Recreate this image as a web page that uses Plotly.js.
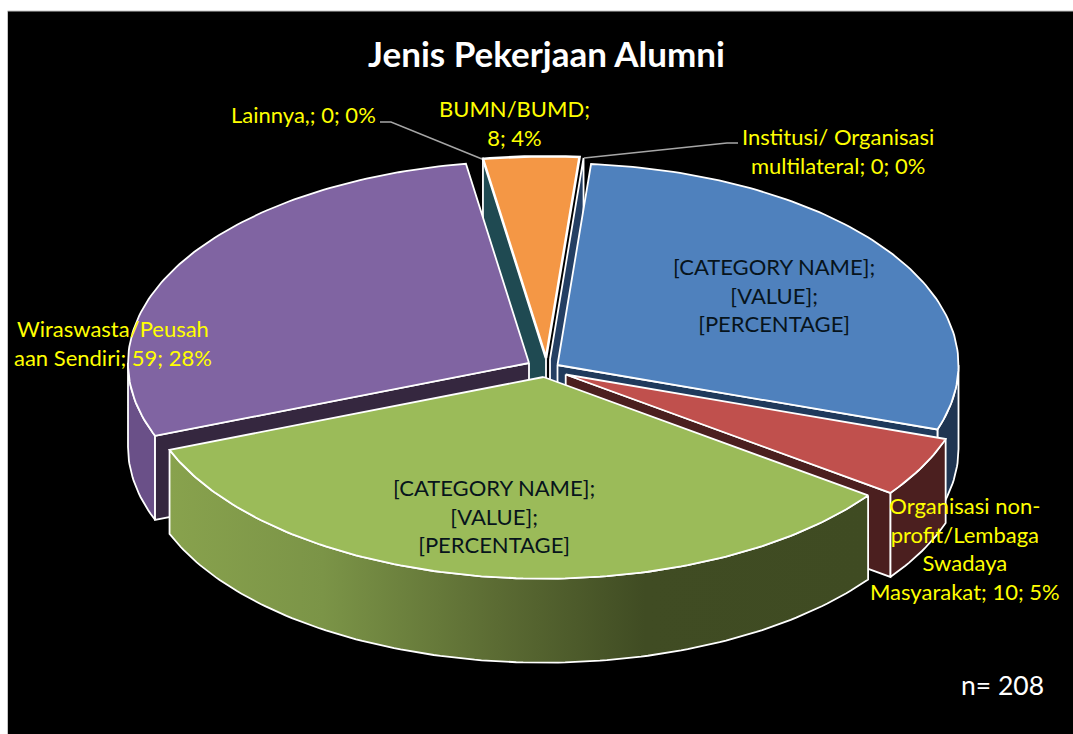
<!DOCTYPE html>
<html>
<head>
<meta charset="utf-8">
<script src="https://cdn.plot.ly/plotly-3.0.1.min.js"></script>
<style>html,body{margin:0;padding:0;background:#fff}#chart{width:1073px;height:734px}</style>
</head>
<body>
<div id="chart"></div>
<script>
// ---- data ----
const categories = ['Swasta', 'Organisasi non-profit/Lembaga Swadaya Masyarakat', 'Pemerintah', 'Wiraswasta/Peusahaan Sendiri', 'Lainnya,', 'BUMN/BUMD', 'Institusi/ Organisasi multilateral'];
const values = [60, 10, 71, 59, 0, 8, 0];
const total = values.reduce((a, b) => a + b, 0);
const titleText = 'Jenis Pekerjaan Alumni';
const noteText = 'n= ' + total;
const pct = values.map(v => Math.round(v / total * 100) + '%');

// ---- projection of the tilted pie, in pixels of the picture ----
const R = 401, K = 0.503, DEPTH = 84, START = 4.8;
const apex = [[557.5, 365], [565.7, 374.5], [543.5, 377], [529, 363], [546, 357], [546, 358], [550, 359]];
const topColors = ['#4f81bd', '#c0504d', '#9bbb59', '#8064a2', '#1f4a52', '#f49745', '#243f63'];
const wallColors = ['#1f3552', '#4b1f1f', '#9bbb59', '#6a5088', '#1f4a52', '#a8642c', '#243f63'];
const cutColors = ['#1f3a5c', '#4b1f1f', '#3f4b22', '#35273f', '#1f4a52', '#1f4a52', '#243f63'];
const greenGradient = [[0, '#88a24d'], [0.22, '#7b9447'], [0.47, '#5b6b33'], [0.68, '#404c23'], [1, '#3f4b22']];

const spans = [];
let cursor = START;
values.forEach(v => { const a = v / total * 360; spans.push([cursor, cursor + a]); cursor += a; });

const rad = d => d * Math.PI / 180;
const pt = (i, deg, drop = 0) => [apex[i][0] + R * Math.sin(rad(deg)), apex[i][1] - R * K * Math.cos(rad(deg)) + drop];
function arc(i, a, b, drop = 0) {
  const out = [];
  const n = Math.max(1, Math.ceil(Math.abs(b - a)));
  for (let s = 0; s <= n; s++) out.push(pt(i, a + (b - a) * s / n, drop));
  return out;
}
function face(name, poly, color, width, extra) {
  return Object.assign({
    type: 'scatter', mode: 'lines', name, hoverinfo: 'skip', showlegend: false,
    x: poly.map(p => p[0]).concat([poly[0][0]]),
    y: poly.map(p => p[1]).concat([poly[0][1]]),
    fill: 'toself', fillcolor: color,
    line: { color: '#ffffff', width: width || 1.8 }
  }, extra || {});
}
const topFace = i => face(categories[i], [apex[i], ...arc(i, spans[i][0], spans[i][1])], topColors[i], i === 5 ? 2.6 : 1.8);
const cutFace = (i, deg, color) => face(categories[i] + ' cut', [apex[i], pt(i, deg), pt(i, deg, DEPTH), [apex[i][0], apex[i][1] + DEPTH]], color);
function outerFace(i, extra) {
  const a = Math.max(spans[i][0], 90), b = Math.min(spans[i][1], 270);
  return face(categories[i] + ' side', [...arc(i, a, b), ...arc(i, b, a, DEPTH)], wallColors[i], 1.8, extra);
}

const traces = [
  cutFace(4, spans[4][0], cutColors[4]),
  cutFace(6, spans[6][0], cutColors[6]),
  topFace(5),
  outerFace(0), cutFace(0, spans[0][1], cutColors[0]), topFace(0),
  outerFace(3), cutFace(3, spans[3][0], cutColors[3]), topFace(3),
  outerFace(1), cutFace(1, spans[1][1], cutColors[1]), topFace(1),
  outerFace(2, { fillgradient: { type: 'horizontal', colorscale: greenGradient } }), topFace(2)
];

// ---- labels ----
const YELLOW = '#ffff00', DARK = '#07141c', FONT = 'Lato, Carlito, sans-serif', LABEL = 22;
const label = (x, y, text, color) => ({ x, y, text, xref: 'x', yref: 'y', showarrow: false, align: 'center', xanchor: 'center', yanchor: 'middle', font: { family: FONT, size: LABEL, color } });
const annotations = [
  label(303, 114, `${categories[4]}; ${values[4]}; ${pct[4]}`, YELLOW),
  label(514, 123, `${categories[5]};<br>${values[5]}; ${pct[5]}`, YELLOW),
  label(838, 151, `Institusi/ Organisasi<br>multilateral; ${values[6]}; ${pct[6]}`, YELLOW),
  label(113, 343, `Wiraswasta/Peusah<br>aan Sendiri; ${values[3]}; ${pct[3]}`, YELLOW),
  label(965, 548, `Organisasi non-<br>profit/Lembaga<br>Swadaya<br>Masyarakat; ${values[1]}; ${pct[1]}`, YELLOW),
  label(774, 295, '[CATEGORY NAME];<br>[VALUE];<br>[PERCENTAGE]', DARK),
  label(494, 516, '[CATEGORY NAME];<br>[VALUE];<br>[PERCENTAGE]', DARK),
  { x: 1002, y: 685, text: noteText, xref: 'x', yref: 'y', showarrow: false, font: { family: FONT, size: 26.5, color: '#ffffff' } },
  { x: 546, y: 53, text: '<b>' + titleText + '</b>', xref: 'x', yref: 'y', showarrow: false, font: { family: FONT, size: 35, color: '#ffffff' } }
];

const layout = {
  width: 1073, height: 734,
  margin: { l: 0, r: 0, t: 0, b: 0, pad: 0 },
  paper_bgcolor: '#ffffff', plot_bgcolor: '#ffffff',
  showlegend: false,
  hovermode: false,
  xaxis: { range: [0, 1073], visible: false, fixedrange: true },
  yaxis: { range: [734, 0], visible: false, fixedrange: true },
  annotations,
  shapes: [
    { type: 'rect', layer: 'below', xref: 'x', yref: 'y', x0: 7.5, y0: 11, x1: 1080, y1: 740, fillcolor: '#000000', line: { color: '#c4c4c4', width: 1 } },
    { type: 'path', layer: 'above', xref: 'x', yref: 'y', path: 'M380,122 L391,122 L482,159', line: { color: '#a6a6a6', width: 1.5 } },
    { type: 'path', layer: 'above', xref: 'x', yref: 'y', path: 'M738,143 L727,143 L584,158', line: { color: '#a6a6a6', width: 1.5 } }
  ]
};
Plotly.newPlot('chart', traces, layout, { displayModeBar: false, staticPlot: true });
</script>
</body>
</html>
